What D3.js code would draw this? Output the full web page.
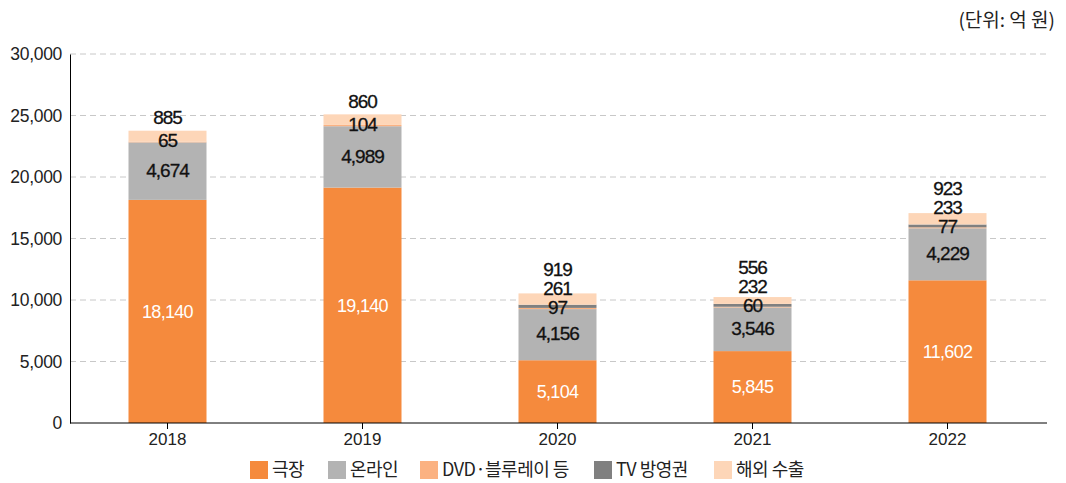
<!DOCTYPE html>
<html>
<head>
<meta charset="utf-8">
<script src="https://cdn.jsdelivr.net/npm/d3@7"></script>
<style>
  body { margin: 0; background: #fff; }
  text { font-family: "Noto Sans CJK KR", "Noto Sans", sans-serif; }
</style>
</head>
<body>
<div id="chart-area"></div>
<script>
// data (단위: 억 원)
var years    = ["2018", "2019", "2020", "2021", "2022"];
var theater  = [18140, 19140, 5104, 5845, 11602];
var online   = [4674, 4989, 4156, 3546, 4229];
var dvd      = [65, 104, 97, 60, 77];
var tvRights = [0, 0, 261, 232, 233];
var exportV  = [885, 860, 919, 556, 923];
var seriesNames  = ["극장", "온라인", "DVD·블루레이 등", "TV 방영권", "해외 수출"];
var seriesColors = ["#f58a3d", "#b3b3b3", "#fbb282", "#808080", "#fdd6b8"];
var yTicks = [0, 5000, 10000, 15000, 20000, 25000, 30000];

var W = 1066, H = 483;
var margin = {left: 70, right: 20, top: 54, bottom: 60};
var width = W - margin.left - margin.right;
var height = H - margin.top - margin.bottom;

var svg = d3.select("#chart-area").append("svg")
    .attr("width", W).attr("height", H);
var g = svg.append("g")
    .attr("transform", "translate(" + margin.left + "," + margin.top + ")");

var table = years.map(function(y, i){
    return {year: y, s0: theater[i], s1: online[i], s2: dvd[i], s3: tvRights[i], s4: exportV[i]};
});
var keys = ["s0", "s1", "s2", "s3", "s4"];
var stacked = d3.stack().keys(keys)(table);

var x = d3.scaleBand().domain(years).range([0, 975]).paddingInner(0.6).paddingOuter(0.3);
var y = d3.scaleLinear().domain([0, 30000]).range([height, 0]);

// grid
g.selectAll(".grid").data(yTicks.filter(function(d){ return d > 0; }))
  .enter().append("line")
    .attr("x1", 0).attr("x2", 977)
    .attr("y1", function(d){ return y(d); })
    .attr("y2", function(d){ return y(d); })
    .attr("stroke", "#c8c8c8")
    .attr("stroke-dasharray", "6,4");

// bars
g.selectAll(".layer").data(stacked).enter().append("g")
    .attr("fill", function(d, i){ return seriesColors[i]; })
  .selectAll("rect").data(function(d){ return d; }).enter().append("rect")
    .attr("x", function(d){ return x(d.data.year); })
    .attr("width", x.bandwidth())
    .attr("y", function(d){ return y(d[1]); })
    .attr("height", function(d){ return y(d[0]) - y(d[1]); });

var numFont = "'Liberation Sans', Arial, sans-serif";

// axes
var yAxis = g.append("g").call(d3.axisLeft(y).tickValues(yTicks).tickSize(0).tickPadding(8)
    .tickFormat(d3.format(",")));
yAxis.select(".domain").attr("stroke", "#000");
yAxis.selectAll("text").attr("font-size", "17.5px").attr("fill", "#222")
    .style("font-family", numFont).style("letter-spacing", "-0.3px");

var xAxis = g.append("g").attr("transform", "translate(0," + height + ")")
    .call(d3.axisBottom(x).tickSize(6).tickPadding(4));
xAxis.select(".domain").attr("d", "M0,0H977").attr("stroke", "#000");
xAxis.selectAll(".tick line").attr("stroke", "#000");
xAxis.selectAll("text").attr("font-size", "17px").attr("fill", "#222")
    .style("font-family", numFont);

var fmt = d3.format(",");

function darkLabel(cx, cy, v){
    g.append("text").attr("x", cx).attr("y", cy).attr("dy", "0.35em")
        .attr("text-anchor", "middle").attr("font-size", "19px").attr("fill", "#111")
        .attr("stroke", "#111").attr("stroke-width", 0.3)
        .style("font-family", numFont).style("letter-spacing", "-1px")
        .text(fmt(v));
}

// labels
table.forEach(function(d, i){
    var cx = x(d.year) + x.bandwidth() / 2;
    g.append("text").attr("x", cx).attr("y", y(d.s0 / 2)).attr("dy", "0.35em")
        .attr("text-anchor", "middle").attr("font-size", "18px").attr("fill", "#fff")
        .style("font-family", numFont).style("letter-spacing", "-0.7px")
        .text(fmt(d.s0));
    darkLabel(cx, y(d.s0 + d.s1 / 2) - 1, d.s1);

    // small segments stacked above the gray part
    var small = [d.s2, d.s3, d.s4].filter(function(v){ return v > 0; });
    var step = small.length == 2 ? 23 : 19;
    var base = y(d.s0 + d.s1) - 2;
    small.forEach(function(v, k){
        darkLabel(cx, base - k * step, v);
    });
});

// unit
svg.append("text").attr("x", 1055).attr("y", 27).attr("text-anchor", "end")
    .attr("font-size", "19px").attr("fill", "#222").text("(단위: 억 원)");

// legend
var legendX = [250, 328, 420, 594, 714];
var legend = svg.selectAll(".legend").data(seriesNames).enter().append("g")
    .attr("transform", function(d, i){ return "translate(" + legendX[i] + ",461)"; });
legend.append("rect").attr("width", 18).attr("height", 18)
    .attr("fill", function(d, i){ return seriesColors[i]; });
legend.append("text").attr("x", 22).attr("y", 9).attr("dy", "0.35em")
    .attr("font-size", "18px").attr("fill", "#222").style("letter-spacing", "-0.5px")
    .text(function(d){ return d; });
</script>
</body>
</html>
